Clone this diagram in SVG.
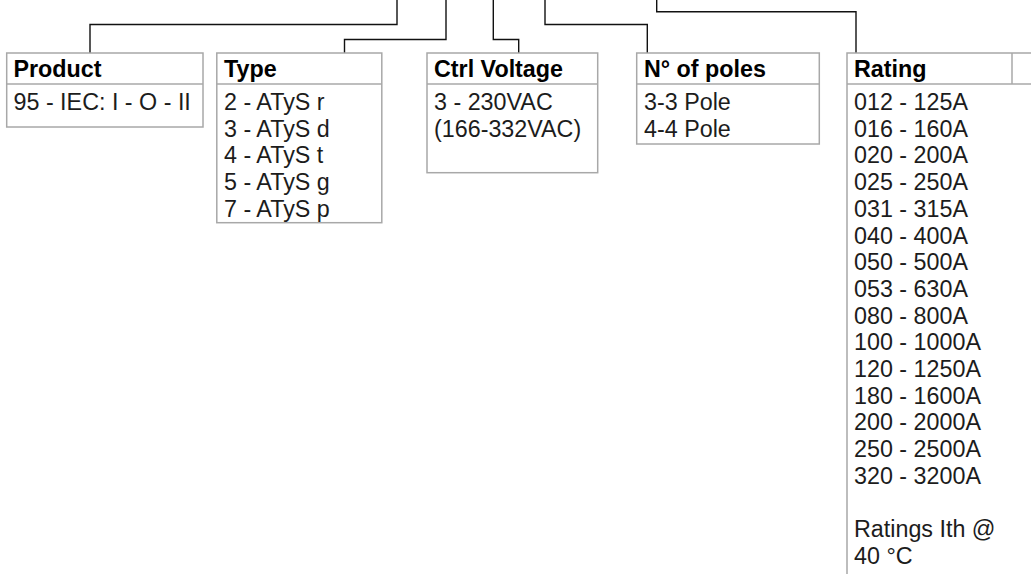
<svg xmlns="http://www.w3.org/2000/svg" width="1031" height="574" viewBox="0 0 1031 574">
<style>
.box{fill:#fff;stroke:#a8a8a8;stroke-width:1.5}
.sep{stroke:#a8a8a8;stroke-width:1.5;fill:none}
.con{fill:none;stroke:#111;stroke-width:1.4}
.h{font-family:"Liberation Sans",Arial,sans-serif;font-weight:bold;font-size:23.3px;fill:#000}
.t{font-family:"Liberation Sans",Arial,sans-serif;font-size:23.3px;fill:#1c1c1c}
</style>
<rect width="1031" height="574" fill="#fff"/>
<g id="connectors">
<path class="con" d="M90,53 V24.5 H397 V0"/>
<path class="con" d="M344.5,53 V39.5 H446 V0"/>
<path class="con" d="M518.7,53 V39.5 H493.3 V0"/>
<path class="con" d="M647.3,53 V24.5 H545 V0"/>
<path class="con" d="M856,53 V11.7 H656.7 V0"/>
</g>
<g id="product">
<rect class="box" x="6.7" y="53" width="196.3" height="74"/>
<line class="sep" x1="6.7" y1="84" x2="203" y2="84"/>
<text class="h" x="13.5" y="77">Product</text>
<text class="t" x="13.5" y="110">95 - IEC: I - O - II</text>
</g>
<g id="type">
<rect class="box" x="216.8" y="53" width="165" height="169.7"/>
<line class="sep" x1="216.8" y1="84" x2="381.8" y2="84"/>
<text class="h" x="224" y="77">Type</text>
<text class="t" x="224" y="110">2 - ATyS r</text>
<text class="t" x="224" y="136.7">3 - ATyS d</text>
<text class="t" x="224" y="163.4">4 - ATyS t</text>
<text class="t" x="224" y="190.1">5 - ATyS g</text>
<text class="t" x="224" y="216.8">7 - ATyS p</text>
</g>
<g id="ctrl-voltage">
<rect class="box" x="427" y="53" width="170.7" height="119.7"/>
<line class="sep" x1="427" y1="84" x2="597.7" y2="84"/>
<text class="h" x="434" y="77">Ctrl Voltage</text>
<text class="t" x="434" y="110">3 - 230VAC</text>
<text class="t" x="434" y="136.7">(166-332VAC)</text>
</g>
<g id="poles">
<rect class="box" x="636.7" y="53" width="182.6" height="91"/>
<line class="sep" x1="636.7" y1="84" x2="819.3" y2="84"/>
<text class="h" x="644" y="77">N° of poles</text>
<text class="t" x="644" y="110">3-3 Pole</text>
<text class="t" x="644" y="136.7">4-4 Pole</text>
</g>
<g id="rating">
<rect class="box" x="847" y="53" width="200" height="540"/>
<line class="sep" x1="847" y1="84" x2="1047" y2="84"/>
<line class="sep" x1="1012" y1="53" x2="1012" y2="84"/>
<text class="h" x="854" y="77">Rating</text>
<text class="t" x="854" y="110">012 - 125A</text>
<text class="t" x="854" y="136.7">016 - 160A</text>
<text class="t" x="854" y="163.4">020 - 200A</text>
<text class="t" x="854" y="190.1">025 - 250A</text>
<text class="t" x="854" y="216.8">031 - 315A</text>
<text class="t" x="854" y="243.5">040 - 400A</text>
<text class="t" x="854" y="270.2">050 - 500A</text>
<text class="t" x="854" y="296.9">053 - 630A</text>
<text class="t" x="854" y="323.6">080 - 800A</text>
<text class="t" x="854" y="350.3">100 - 1000A</text>
<text class="t" x="854" y="377">120 - 1250A</text>
<text class="t" x="854" y="403.7">180 - 1600A</text>
<text class="t" x="854" y="430.4">200 - 2000A</text>
<text class="t" x="854" y="457.1">250 - 2500A</text>
<text class="t" x="854" y="483.8">320 - 3200A</text>
<text class="t" x="854" y="537.2">Ratings Ith @</text>
<text class="t" x="854" y="563.9">40 °C</text>
</g>
</svg>
